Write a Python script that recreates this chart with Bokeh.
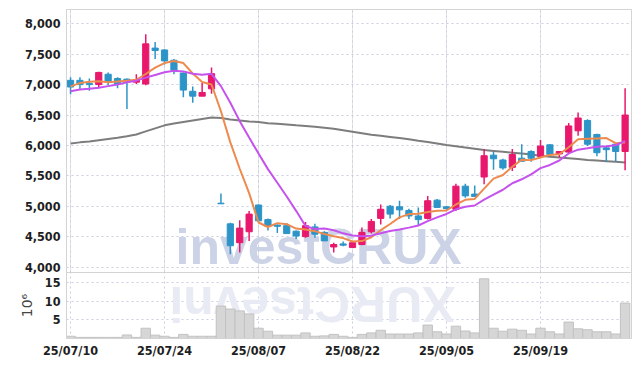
import math
from bokeh.plotting import figure
from bokeh.layouts import column
from bokeh.models import (ColumnDataSource, FixedTicker, Range1d, Label, Grid,
                          NumeralTickFormatter)
from bokeh.embed import file_html
from bokeh.resources import INLINE

# ---------------- data ----------------
opens = [7070, 7070, 7020, 7000, 7170, 7100, 7090, 7040, 7010, 7600,
         7570, 7400, 7190, 6890, 6810, 6930, 5050, 4710, 4400, 4580,
         5020, 4780, 4690, 4680, 4590, 4500, 4660, 4570, 4330, 4380,
         4320, 4370, 4580, 4800, 5000, 4990, 4930, 4840, 4800, 5100,
         4990, 4950, 5330, 5200, 5480, 5840, 5760, 5640, 5790, 5900,
         5820, 6010, 5860, 5890, 6240, 6410, 6180, 5960, 6020, 5900]
highs = [7120, 7120, 7100, 7210, 7200, 7120, 7100, 7170, 7830, 7700,
         7580, 7420, 7200, 6970, 7030, 7280, 5210, 4730, 4770, 4920,
         5030, 4800, 4700, 4720, 4600, 4740, 4710, 4590, 4400, 4420,
         4410, 4650, 4790, 5030, 5020, 5090, 4960, 4980, 5170, 5120,
         5000, 5370, 5370, 5340, 5940, 5890, 5780, 5940, 6020, 5920,
         6090, 6020, 5910, 6370, 6540, 6430, 6190, 5990, 6050, 6940]
lows = [6840, 6920, 6900, 6940, 6990, 6940, 6600, 7010, 6990, 7420,
        7330, 7170, 6790, 6700, 6810, 6850, 5040, 4210, 4240, 4430,
        4750, 4600, 4560, 4550, 4460, 4480, 4480, 4430, 4240, 4340,
        4320, 4360, 4550, 4700, 4800, 4790, 4790, 4680, 4780, 4970,
        4940, 4920, 5140, 5150, 5360, 5600, 5600, 5580, 5740, 5730,
        5800, 5830, 5800, 5860, 6160, 5990, 5820, 5730, 5730, 5590]
closes = [6960, 7000, 7000, 7200, 7040, 7010, 7070, 7080, 7670, 7560,
          7390, 7240, 6910, 6810, 6870, 7180, 5040, 4350, 4640, 4870,
          4760, 4670, 4670, 4550, 4510, 4680, 4540, 4430, 4370, 4360,
          4400, 4570, 4750, 4950, 4870, 4940, 4840, 4780, 5090, 4980,
          4960, 5330, 5170, 5160, 5830, 5780, 5630, 5850, 5740, 5790,
          5990, 5850, 5900, 6320, 6450, 6020, 5880, 5930, 5900, 6500]
ma5 = [6970, 7025, 7045, 7055, 7040, 7050, 7064, 7080, 7174, 7278,
       7354, 7388, 7354, 7182, 7044, 7002, 6562, 6050, 5616, 5216,
       4732, 4658, 4722, 4704, 4632, 4616, 4590, 4542, 4506, 4476,
       4420, 4426, 4490, 4606, 4708, 4816, 4870, 4876, 4904, 4926,
       4930, 5028, 5106, 5120, 5290, 5454, 5514, 5650, 5766, 5758,
       5800, 5844, 5854, 5970, 6102, 6108, 6114, 6120, 6036, 6046]
ma10 = [6890, 6920, 6930, 6950, 6975, 7000, 7040, 7065, 7115, 7159,
        7202, 7226, 7217, 7178, 7161, 7178, 6975, 6702, 6399, 6130,
        5867, 5610, 5386, 5160, 4924, 4674, 4624, 4632, 4605, 4554,
        4518, 4508, 4516, 4556, 4592, 4618, 4648, 4683, 4755, 4817,
        4873, 4949, 4991, 5012, 5108, 5192, 5271, 5378, 5443, 5524,
        5627, 5679, 5752, 5868, 5930, 5954, 5979, 5987, 6003, 6074]
ma_long = [6030, 6050, 6065, 6085, 6105, 6125, 6150, 6180, 6230, 6280,
           6330, 6360, 6385, 6410, 6435, 6460, 6450, 6425, 6410, 6395,
           6385, 6365, 6355, 6345, 6330, 6320, 6305, 6290, 6275, 6250,
           6225, 6200, 6175, 6160, 6140, 6120, 6100, 6075, 6055, 6030,
           6005, 5985, 5965, 5945, 5925, 5910, 5895, 5880, 5865, 5850,
           5830, 5815, 5800, 5790, 5775, 5760, 5750, 5740, 5730, 5720]
volumes = [0.6, 0.3, 0.3, 0.3, 0.3, 0.3, 0.95, 0.3, 2.75, 0.9,
           0.6, 0.3, 1.1, 0.6, 0.6, 0.6, 8.7, 7.9, 7.4, 6.6,
           2.75, 1.95, 0.9, 0.9, 0.9, 1.5, 0.6, 0.7, 1.1, 0.6,
           0.3, 1.1, 1.5, 2.2, 1.2, 1.2, 1.2, 1.5, 3.6, 1.8,
           1.2, 3.3, 2.0, 1.5, 16.0, 2.75, 1.95, 2.5, 2.2, 1.2,
           2.75, 1.8, 1.2, 4.4, 2.6, 2.35, 1.8, 1.8, 1.2, 9.5]
tick_idx = [0, 10, 20, 30, 40, 50]
tick_labels = ["25/07/10", "25/07/24", "25/08/07", "25/08/22", "25/09/05", "25/09/19"]
price_ticks = [4000, 4500, 5000, 5500, 6000, 6500, 7000, 7500, 8000]
volume_ticks = [5, 10, 15]

# ---------------- styling ----------------
UP = "#e8186c"
DOWN = "#2d94c8"
GRID = "#c9cee0"
FRAME = "#d4d4d4"
FONT = "'DejaVu Sans Condensed', sans-serif"
LABEL_COLOR = "#1e1e1e"

idx = list(range(len(closes)))
src = ColumnDataSource(dict(
    x=idx,
    top=[max(o, c) for o, c in zip(opens, closes)],
    bottom=[min(o, c) for o, c in zip(opens, closes)],
    high=highs, low=lows,
    color=[UP if c > o else DOWN for o, c in zip(opens, closes)],
    ma5=ma5, ma10=ma10, ma_long=ma_long, vol=volumes,
))

xr = Range1d(-0.43, 59.68)

p1 = figure(width=639, height=280, x_range=xr, y_range=Range1d(3910, 8235),
            output_backend="svg", toolbar_location=None, x_axis_location=None,
            min_border_left=66, min_border_right=8, min_border_top=9,
            min_border_bottom=8)
p1.outline_line_color = FRAME
p1.background_fill_color = "white"
p1.border_fill_color = "white"
p1.ygrid.ticker = FixedTicker(ticks=price_ticks)
p1.ygrid.grid_line_color = GRID
p1.ygrid.grid_line_dash = "2 3"
p1.add_layout(Grid(dimension=0, ticker=FixedTicker(ticks=tick_idx),
                   grid_line_color=GRID, grid_line_dash="2 3"))
p1.yaxis.ticker = FixedTicker(ticks=price_ticks)
p1.yaxis.formatter = NumeralTickFormatter(format="0,0")

wm = Label(x=109, y=-2, x_units="screen", y_units="screen", text="investCRUX",
           text_font="'Liberation Sans', sans-serif", text_font_size="50px",
           text_font_style="bold", text_color="#ccd3e6", level="underlay")
p1.add_layout(wm)

p1.line("x", "ma_long", source=src, line_color="#7d7d7d", line_width=2)
p1.segment(x0="x", y0="high", x1="x", y1="low", source=src, line_color="color",
           line_width=1.5)
p1.vbar(x="x", top="top", bottom="bottom", width=0.66, source=src,
        fill_color="color", line_color="color", line_width=1)
p1.line("x", "ma5", source=src, line_color="#ee8a4e", line_width=2)
p1.line("x", "ma10", source=src, line_color="#c652ee", line_width=2)

p2 = figure(width=639, height=94, x_range=xr, y_range=Range1d(0, 17.7),
            output_backend="svg", toolbar_location=None,
            min_border_left=66, min_border_right=8, min_border_top=0,
            min_border_bottom=28, margin=(-8, 0, 0, 0))
p2.outline_line_color = FRAME
p2.background_fill_alpha = 0
p2.border_fill_alpha = 0
p2.ygrid.ticker = FixedTicker(ticks=volume_ticks)
p2.ygrid.grid_line_color = GRID
p2.ygrid.grid_line_dash = "2 3"
p2.xgrid.ticker = FixedTicker(ticks=tick_idx)
p2.xgrid.grid_line_color = GRID
p2.xgrid.grid_line_dash = "2 3"
p2.yaxis.ticker = FixedTicker(ticks=volume_ticks)
p2.yaxis.axis_label = "10\u2076"
p2.yaxis.axis_label_text_font_style = "normal"
p2.yaxis.axis_label_text_font = "'DejaVu Sans', sans-serif"
p2.yaxis.axis_label_text_font_size = "14px"
p2.yaxis.axis_label_text_color = "#444444"
p2.yaxis.axis_label_standoff = 7
p2.xaxis.ticker = FixedTicker(ticks=tick_idx)
p2.xaxis.major_label_overrides = {i: t for i, t in zip(tick_idx, tick_labels)}

for ax in (p1.yaxis, p2.xaxis, p2.yaxis):
    ax.major_tick_line_color = None
    ax.minor_tick_line_color = None
    ax.major_tick_out = 0
    ax.major_tick_in = 0
    ax.minor_tick_out = 0
    ax.minor_tick_in = 0
    ax.axis_line_color = FRAME
    ax.major_label_text_font = FONT
    ax.major_label_text_font_size = "12.5px"
    ax.major_label_text_font_style = "bold"
    ax.major_label_text_color = LABEL_COLOR
p1.yaxis.major_label_standoff = 6
p2.yaxis.major_label_standoff = 6
p2.xaxis.major_label_standoff = 4

refl = Label(x=389, y=63, x_units="screen", y_units="screen", text="XURCtsevni",
             angle=math.pi, text_font="'Liberation Sans', sans-serif",
             text_font_size="50px", text_font_style="bold",
             text_color="#e8ebf4", level="underlay")
p2.add_layout(refl)

p2.vbar(x="x", top="vol", bottom=0, width=1.0, source=src,
        fill_color="#d6d6d6", line_color="#c2c2c2", line_width=1)

layout = column(p1, p2, spacing=0)
open("out.html", "w").write(file_html(layout, INLINE))
